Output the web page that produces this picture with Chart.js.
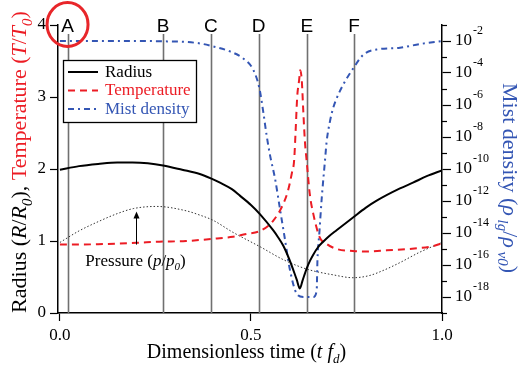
<!DOCTYPE html>
<html>
<head>
<meta charset="utf-8">
<script src="https://cdn.jsdelivr.net/npm/chart.js@4.4.0/dist/chart.umd.min.js"></script>
<style>
  html, body { margin: 0; padding: 0; background: #fff; }
  #wrap { width: 519px; height: 370px; }
</style>
</head>
<body>
<div id="wrap"><canvas id="chart" width="519" height="370"></canvas></div>
<script>
// values
const radiusT = [0, 0.05, 0.1, 0.15, 0.19, 0.23, 0.27, 0.32, 0.366, 0.395, 0.419, 0.45, 0.471, 0.5, 0.524, 0.558, 0.57, 0.585, 0.6, 0.612, 0.62, 0.628, 0.635, 0.646, 0.655, 0.663, 0.675, 0.689, 0.705, 0.724, 0.768, 0.8, 0.829, 0.89, 0.924, 0.96, 1.0];
const radiusV = [1.99, 2.04, 2.07, 2.09, 2.09, 2.08, 2.05, 1.99, 1.93, 1.87, 1.81, 1.72, 1.63, 1.5, 1.37, 1.15, 1.06, 0.93, 0.75, 0.58, 0.46, 0.34, 0.45, 0.62, 0.73, 0.81, 0.91, 0.99, 1.07, 1.15, 1.33, 1.46, 1.56, 1.73, 1.81, 1.9, 1.98];

const tempT = [0, 0.1, 0.2, 0.26, 0.33, 0.4, 0.453, 0.49, 0.524, 0.558, 0.585, 0.597, 0.607, 0.613, 0.617, 0.621, 0.626, 0.629, 0.633, 0.637, 0.641, 0.646, 0.654, 0.663, 0.68, 0.698, 0.724, 0.767, 0.8, 0.855, 0.916, 0.977, 1.0];
const tempV = [0.95, 0.955, 0.975, 0.99, 1.0, 1.03, 1.06, 1.1, 1.14, 1.28, 1.52, 1.7, 1.94, 2.12, 2.54, 3.0, 3.23, 3.37, 3.23, 2.8, 2.4, 2.1, 1.65, 1.38, 1.05, 0.96, 0.89, 0.86, 0.855, 0.87, 0.89, 0.93, 0.97];

// mist density as log10 exponents
const mistT = [0, 0.1, 0.2, 0.27, 0.33, 0.366, 0.395, 0.445, 0.48, 0.506, 0.522, 0.532, 0.541, 0.55, 0.563, 0.576, 0.589, 0.602, 0.62, 0.637, 0.663, 0.672, 0.674, 0.679, 0.685, 0.694, 0.698, 0.707, 0.715, 0.724, 0.742, 0.768, 0.794, 0.829, 0.89, 0.94, 1.0];
const mistExp = [-2.0, -2.0, -2.0, -2.02, -2.06, -2.15, -2.3, -2.65, -3.1, -3.8, -4.95, -6.4, -7.9, -9.15, -10.6, -12.5, -14.4, -16.3, -17.8, -18.0, -18.0, -17.6, -15.7, -14.0, -11.9, -9.4, -8.3, -7.0, -6.2, -5.6, -4.7, -3.7, -2.86, -2.53, -2.42, -2.2, -2.0];

const pressT = [0, 0.05, 0.105, 0.15, 0.192, 0.253, 0.33, 0.366, 0.4, 0.453, 0.524, 0.585, 0.646, 0.715, 0.767, 0.81, 0.85, 0.89, 0.94, 1.0];
const pressV = [0.98, 1.14, 1.28, 1.38, 1.45, 1.48, 1.42, 1.36, 1.29, 1.12, 0.92, 0.74, 0.61, 0.53, 0.49, 0.52, 0.6, 0.7, 0.84, 0.98];

const markerLabels = ["A", "B", "C", "D", "E", "F"];
const markerT = [0.02, 0.27, 0.395, 0.52, 0.646, 0.77];

const xTicks = [0, 0.5, 1.0];
const leftTicks = [0, 1, 2, 3, 4];
const rightMajorExp = [-18, -16, -14, -12, -10, -8, -6, -4, -2];
const rightMinorExp = [-19, -17, -15, -13, -11, -9, -7, -5, -3, -1];

// pressure note in data units (t, left axis)
const noteAt = { t: 0.198, y: 0.655 };
const arrowAt = { t: 0.2, from: 0.95, to: 1.41 };

const SERIF = "'Liberation Serif', 'Times New Roman', serif";
const SANS = "'Liberation Sans', Arial, sans-serif";
const RED = "#ec1c24";
const BLUE = "#3456b4";

function toPoints(xs, ys) {
  return xs.map((x, i) => ({ x: x, y: ys[i] }));
}

function partFont(p, size) {
  const s = p.sub || p.sup ? Math.round(size * 0.66) : size;
  return (p.it ? "italic " : "") + s + "px " + SERIF;
}

function richWidth(ctx, parts, size) {
  let w = 0;
  parts.forEach((p) => {
    ctx.font = partFont(p, size);
    w += ctx.measureText(p.t).width;
  });
  return w;
}

function drawRich(ctx, parts, x, y, size, color) {
  ctx.textBaseline = "alphabetic";
  ctx.textAlign = "left";
  parts.forEach((p) => {
    ctx.font = partFont(p, size);
    ctx.fillStyle = p.c || color;
    let dy = 0;
    if (p.sub) dy = size * 0.25;
    if (p.sup) dy = -size * 0.42;
    ctx.fillText(p.t, x, y + dy);
    x += ctx.measureText(p.t).width;
  });
  return x;
}

const leftTitle = [
  { t: "Radius (" }, { t: "R", it: true }, { t: "/" }, { t: "R", it: true }, { t: "0", it: true, sub: true }, { t: "), " },
  { t: "Temperature (", c: RED }, { t: "T", it: true, c: RED }, { t: "/", c: RED }, { t: "T", it: true, c: RED },
  { t: "0", it: true, sub: true, c: RED }, { t: ")", c: RED }
];
const rightTitle = [
  { t: "Mist density (" }, { t: "\u03C1", it: true }, { t: " lg", it: true, sub: true }, { t: "/" },
  { t: "\u03C1", it: true }, { t: " v0", it: true, sub: true }, { t: ")" }
];
const bottomTitle = [
  { t: "Dimensionless time (" }, { t: "t ", it: true }, { t: "f", it: true }, { t: "d", it: true, sub: true }, { t: ")" }
];
const pressureNote = [
  { t: "Pressure (" }, { t: "p", it: true }, { t: "/" }, { t: "p", it: true }, { t: "0", it: true, sub: true }, { t: ")" }
];

const markerPlugin = {
  id: "markers",
  beforeDatasetsDraw(chart) {
    const ctx = chart.ctx;
    const x = chart.scales.x;
    const area = chart.chartArea;
    ctx.save();
    ctx.strokeStyle = "#707070";
    ctx.lineWidth = 1.6;
    markerT.forEach((t) => {
      const px = Math.round(x.getPixelForValue(t)) + 0.5;
      ctx.beginPath();
      ctx.moveTo(px, area.top + 9);
      ctx.lineTo(px, area.bottom);
      ctx.stroke();
    });
    ctx.restore();
  },
  afterDraw(chart) {
    const ctx = chart.ctx;
    const x = chart.scales.x;
    const yL = chart.scales.yL;
    const yR = chart.scales.yR;
    const area = chart.chartArea;
    ctx.save();

    // marker letters
    ctx.font = "19px " + SANS;
    ctx.fillStyle = "#000";
    ctx.textAlign = "center";
    ctx.textBaseline = "alphabetic";
    markerT.forEach((t, i) => {
      ctx.fillText(markerLabels[i], x.getPixelForValue(t), 31.5);
    });

    // red circle around A
    ctx.strokeStyle = "#e8262a";
    ctx.lineWidth = 3;
    ctx.beginPath();
    ctx.ellipse(x.getPixelForValue(markerT[0]), 24.5, 20.5, 22, 0, 0, Math.PI * 2);
    ctx.stroke();

    // legend box
    const lx = 63, ly = 60, lw = 133, lh = 62;
    ctx.fillStyle = "#fff";
    ctx.fillRect(lx, ly, lw, lh);
    ctx.strokeStyle = "#000";
    ctx.lineWidth = 1.3;
    ctx.strokeRect(lx + 0.5, ly + 0.5, lw, lh);
    const items = chart.data.datasets.filter((d) => d.inLegend);
    items.forEach((d, i) => {
      const yy = ly + 12 + i * 18.5;
      ctx.strokeStyle = d.borderColor;
      ctx.lineWidth = d.borderWidth;
      ctx.setLineDash(d.borderDash || []);
      ctx.beginPath();
      ctx.moveTo(lx + 5, yy);
      ctx.lineTo(lx + 35, yy);
      ctx.stroke();
      ctx.setLineDash([]);
      ctx.font = "17px " + SERIF;
      ctx.fillStyle = d.borderColor;
      ctx.textAlign = "left";
      ctx.textBaseline = "middle";
      ctx.fillText(d.label, lx + 42, yy + 0.5);
    });

    // pressure note with arrow
    const ax = Math.round(x.getPixelForValue(arrowAt.t)) + 0.5;
    const a0 = yL.getPixelForValue(arrowAt.from);
    const a1 = yL.getPixelForValue(arrowAt.to);
    ctx.strokeStyle = "#000";
    ctx.lineWidth = 1;
    ctx.beginPath();
    ctx.moveTo(ax, a0);
    ctx.lineTo(ax, a1 + 6);
    ctx.stroke();
    ctx.fillStyle = "#000";
    ctx.beginPath();
    ctx.moveTo(ax, a1);
    ctx.lineTo(ax - 3, a1 + 7);
    ctx.lineTo(ax + 3, a1 + 7);
    ctx.closePath();
    ctx.fill();
    const nw = richWidth(ctx, pressureNote, 17);
    drawRich(ctx, pressureNote, x.getPixelForValue(noteAt.t) - nw / 2, yL.getPixelForValue(noteAt.y), 17, "#000");

    // right axis: minor ticks and 10^n labels
    ctx.strokeStyle = "#000";
    ctx.lineWidth = 1.2;
    rightMinorExp.forEach((e) => {
      const py = Math.round(yR.getPixelForValue(Math.pow(10, e))) + 0.5;
      ctx.beginPath();
      ctx.moveTo(area.right, py);
      ctx.lineTo(area.right + 5, py);
      ctx.stroke();
    });
    rightMajorExp.forEach((e) => {
      const py = yR.getPixelForValue(Math.pow(10, e));
      ctx.font = "17px " + SERIF;
      ctx.fillStyle = "#000";
      ctx.textAlign = "left";
      ctx.textBaseline = "middle";
      ctx.fillText("10", area.right + 13, py);
      const w = ctx.measureText("10").width;
      ctx.font = "12px " + SERIF;
      ctx.textBaseline = "alphabetic";
      ctx.fillText(String(e), area.right + 14 + w, py - 7);
    });

    // axis titles
    ctx.save();
    const lw2 = richWidth(ctx, leftTitle, 22);
    ctx.translate(26, 162 + lw2 / 2);
    ctx.rotate(-Math.PI / 2);
    drawRich(ctx, leftTitle, 0, 0, 22, "#000");
    ctx.restore();

    ctx.save();
    ctx.translate(503, 83);
    ctx.rotate(Math.PI / 2);
    drawRich(ctx, rightTitle, 0, 0, 22, BLUE);
    ctx.restore();

    const bw = richWidth(ctx, bottomTitle, 20);
    drawRich(ctx, bottomTitle, 246.5 - bw / 2, 358, 20, "#000");

    ctx.restore();
  }
};

function tickGrid(len) {
  return {
    drawOnChartArea: false,
    drawTicks: true,
    tickLength: len,
    color: "#000",
    tickColor: "#000",
    tickWidth: 1.2
  };
}

const chart = new Chart(document.getElementById("chart"), {
  type: "line",
  data: {
    datasets: [
      {
        label: "Radius",
        inLegend: true,
        data: toPoints(radiusT, radiusV),
        yAxisID: "yL",
        borderColor: "#000",
        borderWidth: 2,
        pointRadius: 0,
        cubicInterpolationMode: "monotone"
      },
      {
        label: "Temperature",
        inLegend: true,
        data: toPoints(tempT, tempV),
        yAxisID: "yL",
        borderColor: RED,
        borderWidth: 2,
        borderDash: [7, 5],
        pointRadius: 0,
        cubicInterpolationMode: "monotone"
      },
      {
        label: "Mist density",
        inLegend: true,
        data: toPoints(mistT, mistExp.map((e) => Math.pow(10, e))),
        yAxisID: "yR",
        borderColor: BLUE,
        borderWidth: 2,
        borderDash: [6, 4, 2, 4],
        pointRadius: 0,
        cubicInterpolationMode: "monotone"
      },
      {
        label: "Pressure",
        inLegend: false,
        data: toPoints(pressT, pressV),
        yAxisID: "yL",
        borderColor: "#333",
        borderWidth: 1,
        borderDash: [1.5, 2],
        pointRadius: 0,
        cubicInterpolationMode: "monotone"
      }
    ]
  },
  options: {
    responsive: false,
    animation: false,
    layout: { padding: { top: 25, left: 0, right: 0, bottom: 0 } },
    plugins: {
      legend: { display: false },
      tooltip: { enabled: false }
    },
    scales: {
      x: {
        type: "linear",
        position: "bottom",
        min: -0.005,
        max: 1.0,
        afterBuildTicks: (s) => { s.ticks = xTicks.map((v) => ({ value: v })); },
        afterFit: (s) => { s.height = 57; },
        ticks: {
          callback: (v) => Number(v).toFixed(1),
          font: { family: SERIF, size: 17 },
          color: "#000",
          padding: 4,
          maxRotation: 0
        },
        grid: tickGrid(8),
        border: { display: true, color: "#000", width: 1.5 }
      },
      yL: {
        type: "linear",
        position: "left",
        min: 0,
        max: 4,
        afterBuildTicks: (s) => { s.ticks = leftTicks.map((v) => ({ value: v })); },
        afterFit: (s) => { s.width = 58; },
        ticks: {
          font: { family: SERIF, size: 17 },
          color: "#000",
          padding: 4
        },
        grid: tickGrid(8),
        border: { display: true, color: "#000", width: 1.5 }
      },
      yR: {
        type: "logarithmic",
        position: "right",
        min: 1e-19,
        max: 1e-1,
        afterBuildTicks: (s) => { s.ticks = rightMajorExp.map((e) => ({ value: Math.pow(10, e) })); },
        afterFit: (s) => { s.width = 77; },
        ticks: { display: false },
        grid: tickGrid(9),
        border: { display: true, color: "#000", width: 1.5 }
      }
    }
  },
  plugins: [markerPlugin]
});
</script>
</body>
</html>
